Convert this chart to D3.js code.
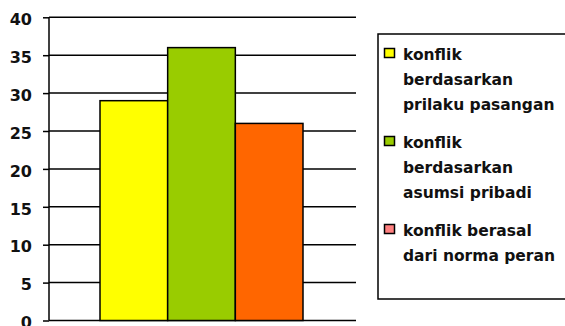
<!DOCTYPE html>
<html><head><meta charset="utf-8">
<script src="https://cdn.jsdelivr.net/npm/d3@7"></script>
<style>body{margin:0;background:#fff;} svg{display:block;}</style>
</head><body>
<script>
const categories = ["konflik berdasarkan prilaku pasangan", "konflik berdasarkan asumsi pribadi", "konflik berasal dari norma peran"];
const values = [29, 36, 26];
const barColors = ["#ffff00", "#99cc00", "#ff6600"];
const legendColors = ["#ffff00", "#99cc00", "#ff8080"];
const legendLines = [["konflik", "berdasarkan", "prilaku pasangan"], ["konflik", "berdasarkan", "asumsi pribadi"], ["konflik berasal", "dari norma peran"]];
const yTicks = [0, 5, 10, 15, 20, 25, 30, 35, 40];

const W = 565, H = 326;
const svg = d3.select("body").append("svg").attr("width", W).attr("height", H);
const font = "'DejaVu Sans', sans-serif";

const y = d3.scaleLinear().domain([0, 40]).range([320.5, 17.3]);
const x = d3.scaleBand().domain(categories).range([100, 303]).padding(0);

// gridlines
svg.append("g").selectAll("line").data(yTicks.filter(d => d > 0)).join("line")
  .attr("x1", 49).attr("x2", 356).attr("y1", d => y(d)).attr("y2", d => y(d))
  .attr("stroke", "#000").attr("stroke-width", 1.5);

// axis
const axis = d3.axisLeft(y).tickValues(yTicks).tickSize(6).tickPadding(11);
const ag = svg.append("g").attr("transform", "translate(49,0)").call(axis);
ag.select(".domain").remove();
ag.selectAll(".tick line").attr("stroke", "#000").attr("stroke-width", 1.5);
ag.selectAll(".tick text").attr("font-family", font).attr("font-weight", "bold")
  .attr("font-size", "16px").attr("fill", "#111").attr("dy", "0.45em");
svg.append("line").attr("x1", 49).attr("x2", 49).attr("y1", y(40)).attr("y2", y(0))
  .attr("stroke", "#000").attr("stroke-width", 1.5);
svg.append("line").attr("x1", 49).attr("x2", 356).attr("y1", y(0)).attr("y2", y(0))
  .attr("stroke", "#000").attr("stroke-width", 1.5);

// bars
svg.append("g").selectAll("rect").data(values).join("rect")
  .attr("x", (d, i) => x(categories[i])).attr("width", x.bandwidth())
  .attr("y", d => y(d)).attr("height", d => y(0) - y(d))
  .attr("fill", (d, i) => barColors[i]).attr("stroke", "#000").attr("stroke-width", 1.5);

// legend
svg.append("rect").attr("x", 378).attr("y", 34).attr("width", 240).attr("height", 265)
  .attr("fill", "#fff").attr("stroke", "#000").attr("stroke-width", 1.5);
const entryTop = [60, 148, 236];
const lg = svg.append("g");
legendLines.forEach((lines, i) => {
  lg.append("rect").attr("x", 384.5).attr("y", entryTop[i] - 11.5).attr("width", 10).attr("height", 9)
    .attr("fill", legendColors[i]).attr("stroke", "#000").attr("stroke-width", 1.5);
  lines.forEach((t, j) => {
    lg.append("text").attr("x", 403).attr("y", entryTop[i] + j * 25)
      .attr("font-family", font).attr("font-weight", "bold").attr("font-size", "15.5px")
      .attr("fill", "#111").text(t);
  });
});
</script>
</body></html>
